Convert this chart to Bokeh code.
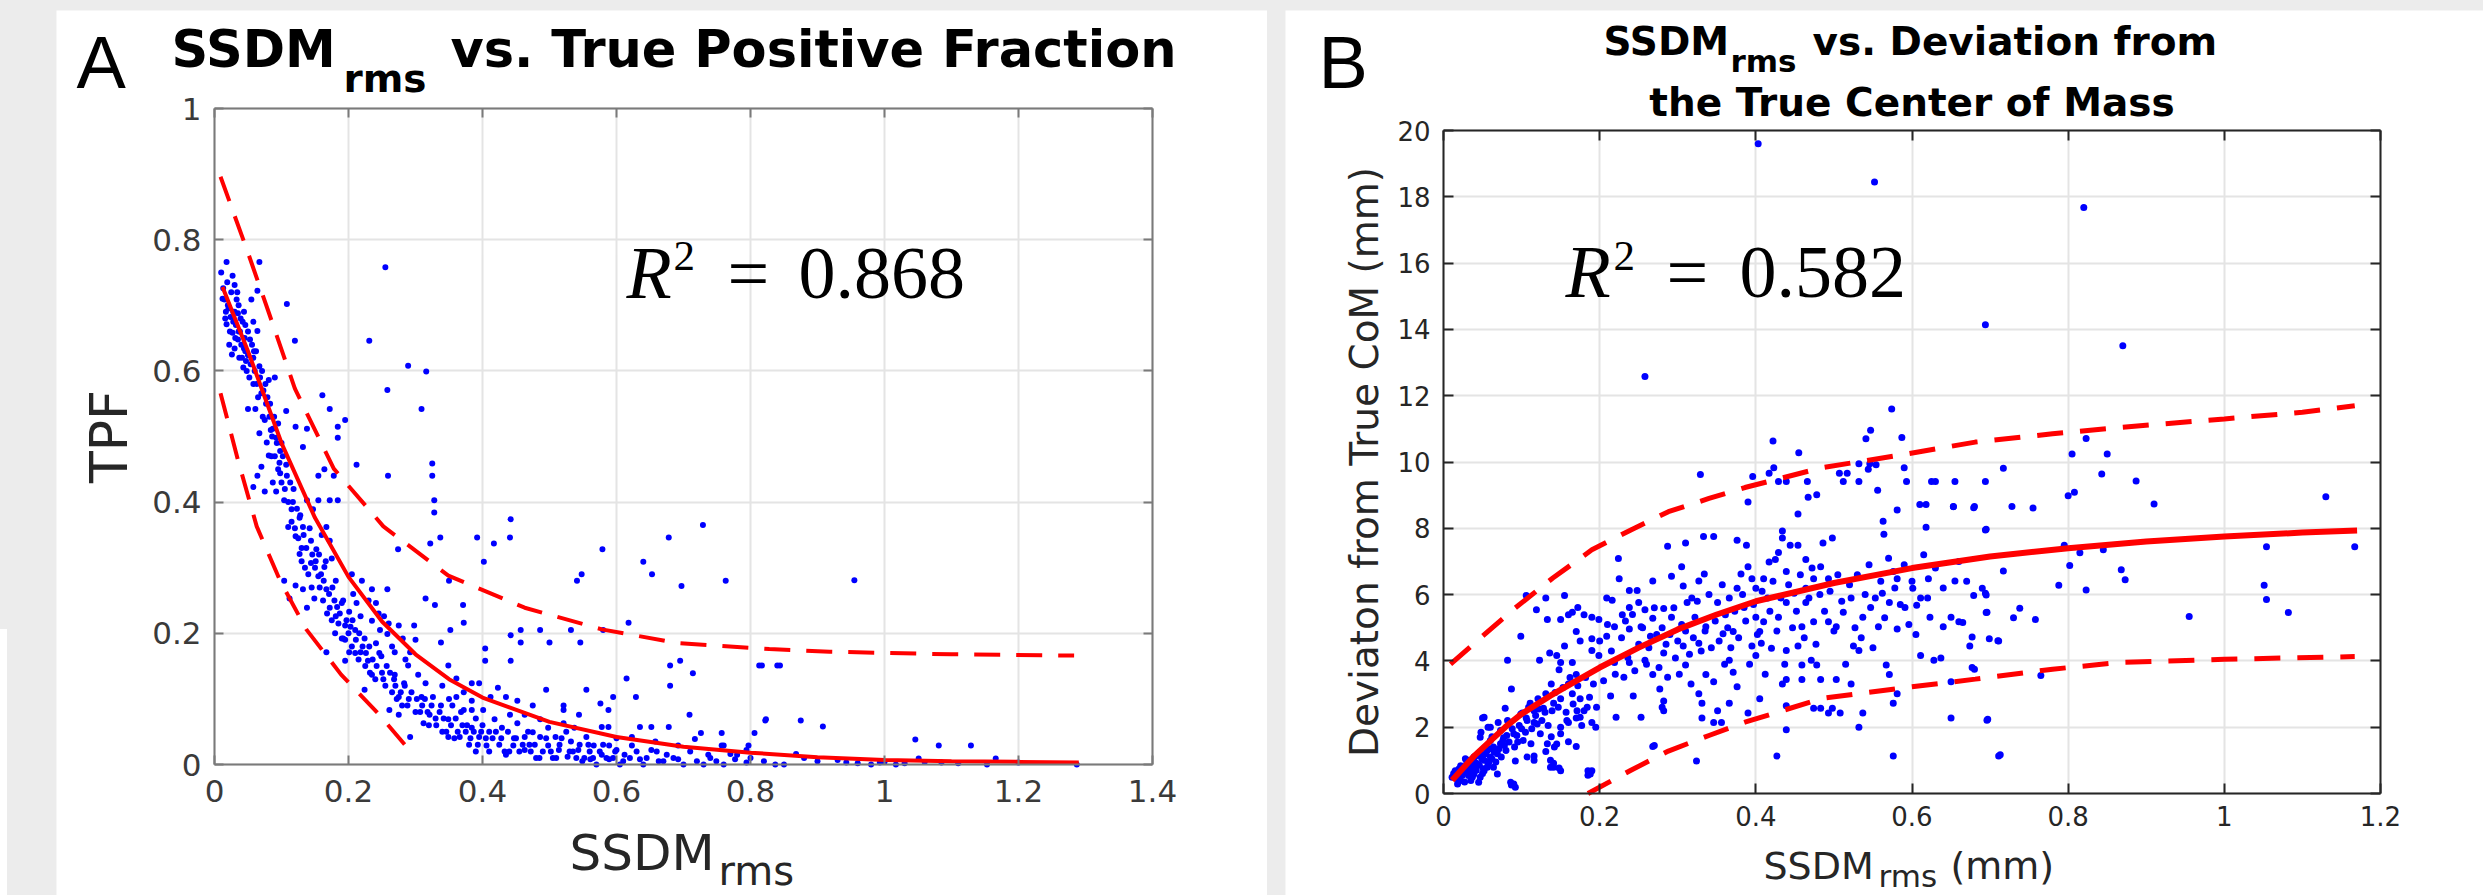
import math
from bokeh.plotting import figure
from bokeh.models import Range1d, FixedTicker, LinearAxis, Label, Spacer, Grid
from bokeh.layouts import row, column
from bokeh.embed import file_html
from bokeh.resources import INLINE

# ---------------- Panel A: SSDM_rms vs TPF ----------------
tpf_points = [
    (.255, .758), (.108, .702), (.12, .646), (.231, .646), (.289, .608), (.316, .599), (.258, .571), (.309, .542),
    (.325, .459), (.325, .44), (.259, .44), (.328, .403), (.328, .384), (.337, .346), (.322, .337), (.274, .328),
    (.442, .374), (.441, .346), (.417, .337), (.392, .346), (.402, .309),
    (.579, .328), (.548, .29), (.541, .28),
    (.640, .309), (.653, .29), (.678, .346), (.697, .272), (.729, .365), (.763, .28), (.955, .281),
    (.618, .216), (.58, .205), (.546, .186), (.532, .205), (.486, .205), (.5, .186), (.457, .205), (.457, .186),
    (.442, .197), (.442, .158), (.404, .177), (.404, .158), (.372, .216), (.371, .243), (.352, .205), (.35, .28),
    (.338, .186), (.315, .253), (.329, .243),
    (.68, .151), (.695, .158), (.714, .139), (.68, .12), (.709, .076), (.717, .039), (.726, .048), (.757, .048),
    (.806, .048), (.757, .029), (.652, .057), (.678, .057), (.615, .131), (.629, .103), (.595, .103), (.588, .083),
    (.555, .114), (.576, .093), (.578, .057), (.588, .057), (.544, .076), (.521, .083), (.495, .114),
    (.817, .151), (.823, .069), (.797, .029), (.84, .151),
    (.813, .151), (.844, .151), (.875, .067), (.908, .058), (.822, .067), (1.046, .038), (1.081, .029),
    (1.129, .029), (1.166, .009), (1.051, .009), (.794, .003), (.837, .0), (.943, .003), (.98, .0), (.993, .003),
    (1.017, .0), (1.085, .003), (1.153, .0), (1.287, .0), (.77, .016), (.868, .016), (.93, .007), (1.0, .004),
    (1.03, .002), (1.06, .004), (1.11, .002), (1.2, .003), (.9, .005), (.96, .002),
    (.01, .75), (.018, .766), (.013, .726), (.015, .709), (.021, .695), (.024, .682), (.03, .731), (.033, .709),
    (.035, .688), (.018, .671), (.027, .658), (.035, .648), (.044, .634), (.03, .634), (.041, .62), (.05, .624),
    (.058, .62), (.067, .607), (.055, .709), (.067, .766), (.064, .722), (.058, .675), (.053, .648), (.064, .661),
    (.02, .70), (.025, .72), (.028, .69), (.032, .67), (.038, .66), (.04, .64), (.045, .65), (.048, .60),
    (.052, .59), (.06, .60), (.022, .64), (.026, .625), (.016, .68), (.036, .70), (.042, .675), (.047, .615),
    (.058, .58), (.07, .566), (.081, .586), (.09, .59), (.05, .542), (.061, .542), (.075, .525), (.087, .512),
    (.067, .505), (.078, .491), (.092, .498), (.098, .478), (.081, .471), (.07, .454), (.064, .44), (.087, .43),
    (.098, .444), (.092, .416), (.075, .416), (.107, .457), (.058, .423), (.121, .515), (.138, .512), (.132, .484),
    (.107, .539), (.065, .56), (.072, .53), (.083, .55), (.095, .52), (.085, .47), (.1, .49),
    (.104, .403), (.115, .389), (.127, .376), (.138, .403), (.147, .389), (.11, .362), (.121, .348), (.132, .362),
    (.144, .341), (.127, .321), (.144, .307), (.152, .328), (.104, .28), (.112, .253), (.121, .273), (.132, .267),
    (.138, .239), (.149, .253), (.155, .287), (.164, .301), (.167, .267), (.175, .314), (.181, .28), (.172, .341),
    (.167, .362), (.164, .45), (.178, .44), (.184, .403), (.172, .403), (.155, .403), (.155, .44), (.184, .515),
    (.195, .525), (.184, .498), (.161, .563), (.172, .542), (.212, .457), (.118, .42), (.13, .33), (.16, .35),
    (.172, .239), (.181, .226), (.19, .246), (.195, .212), (.201, .233), (.207, .26), (.212, .246), (.218, .226),
    (.224, .192), (.21, .205), (.19, .192), (.201, .171), (.218, .171), (.229, .158), (.235, .267), (.241, .246),
    (.235, .219), (.247, .205), (.253, .226), (.258, .199), (.241, .185), (.249, .165), (.235, .137), (.224, .114),
    (.258, .267), (.167, .171), (.195, .158), (.192, .192), (.275, .212), (.281, .192), (.269, .171), (.292, .171),
    (.298, .212), (.289, .151), (.269, .137), (.283, .124), (.275, .103), (.304, .137), (.309, .103), (.315, .124),
    (.326, .103), (.321, .076), (.338, .09), (.349, .069), (.312, .063), (.292, .042), (.275, .076), (.261, .083),
    (.205, .29), (.22, .28), (.23, .25), (.245, .23), (.26, .215), (.265, .18), (.285, .16), (.3, .19),
    (.349, .151), (.361, .131), (.372, .11), (.384, .097), (.395, .124), (.401, .083), (.412, .103), (.418, .069),
    (.372, .083), (.384, .056), (.395, .042), (.406, .029), (.349, .042), (.366, .042), (.429, .056), (.441, .076),
    (.452, .063), (.463, .042), (.446, .029), (.435, .015), (.384, .083), (.361, .103), (.423, .117), (.435, .103),
    (.452, .097), (.463, .076), (.384, .124), (.34, .12), (.355, .09), (.37, .06), (.39, .07), (.41, .05),
    (.475, .09), (.486, .069), (.498, .056), (.509, .042), (.521, .063), (.532, .035), (.543, .022), (.555, .042),
    (.566, .029), (.578, .015), (.589, .029), (.486, .042), (.498, .029), (.514, .022), (.527, .012), (.549, .005),
    (.561, .008), (.589, .008), (.463, .022), (.475, .049), (.537, .056), (.521, .09), (.54, .01), (.57, .0),
    (.6, .022), (.612, .015), (.623, .029), (.635, .008), (.652, .022), (.663, .005), (.675, .015), (.692, .008),
    (.72, .005), (.737, .015), (.749, .005), (.623, .042), (.658, .035), (.692, .029), (.76, .029), (.777, .008),
    (.794, .022), (.635, .057), (.605, .0), (.64, .0), (.7, .0), (.73, .0), (.6, .04), (.62, .01),
    (.012, .71), (.017, .69), (.023, .66), (.028, .675), (.031, .65), (.037, .62), (.043, .605), (.046, .63),
    (.05, .66), (.056, .64), (.062, .63), (.068, .59), (.073, .57), (.077, .55), (.082, .53), (.086, .5),
    (.09, .47), (.095, .45), (.1, .43), (.105, .42), (.11, .4), (.115, .37), (.12, .36), (.125, .345),
    (.13, .31), (.135, .3), (.14, .29), (.145, .27), (.15, .3), (.157, .27), (.162, .25), (.168, .23),
    (.175, .22), (.18, .2), (.185, .215), (.195, .19), (.2, .2), (.205, .18), (.21, .17), (.215, .16),
    (.225, .15), (.232, .14), (.24, .13), (.25, .14), (.255, .12), (.265, .11), (.27, .12), (.28, .09),
    (.29, .1), (.3, .08), (.31, .09), (.32, .06), (.33, .07), (.34, .05), (.35, .1), (.36, .07),
    (.375, .05), (.38, .03), (.39, .02), (.4, .06), (.415, .04), (.425, .03), (.44, .02), (.45, .04),
    (.47, .03), (.48, .01), (.49, .02), (.505, .01), (.515, .03), (.525, .05), (.535, .02), (.56, .02),
    (.565, .01), (.58, .03), (.595, .01), (.61, .005), (.63, .02), (.645, .01), (.66, .02), (.67, .005),
    (.685, .01), (.71, .02), (.74, .01), (.76, .0), (.78, .015), (.8, .01), (.82, .005), (.85, .0), (.88, .01),
    (.03, .69), (.034, .72), (.039, .68), (.044, .69), (.019, .735), (.027, .745), (.036, .66), (.046, .67),
    (.054, .61), (.059, .63), (.063, .58), (.071, .6), (.076, .58), (.079, .56), (.084, .51), (.089, .53),
    (.093, .49), (.097, .46), (.102, .47), (.108, .44), (.113, .43), (.117, .4), (.123, .39), (.128, .38),
    (.133, .35), (.137, .33), (.142, .36), (.146, .32), (.151, .31), (.156, .32), (.159, .29), (.163, .28),
    (.166, .31), (.171, .26), (.176, .27), (.179, .25), (.183, .24), (.187, .23), (.192, .25), (.197, .22),
    (.203, .21), (.206, .22), (.211, .19), (.216, .2), (.221, .18), (.226, .17), (.231, .18), (.236, .16),
    (.242, .15), (.246, .17), (.252, .13), (.257, .15), (.262, .14), (.268, .13), (.272, .1), (.278, .11),
    (.284, .12), (.288, .09), (.294, .11), (.302, .1), (.307, .08), (.314, .1), (.318, .08), (.324, .09),
    (.331, .06), (.336, .08), (.342, .07), (.346, .05), (.353, .06), (.358, .04), (.363, .05), (.368, .08),
    (.377, .06), (.382, .04), (.387, .05), (.393, .03), (.398, .05), (.405, .04), (.41, .02), (.42, .05),
    (.428, .04), (.433, .02), (.438, .05), (.447, .04), (.455, .02), (.46, .03), (.468, .05), (.472, .02),
    (.478, .03), (.485, .01), (.495, .04), (.502, .02), (.51, .01), (.518, .04), (.53, .02), (.545, .03),
    (.552, .01), (.558, .03), (.575, .02), (.585, .01), (.598, .02),
]
tpf_fit_x = [0.012, 0.05, 0.1, 0.15, 0.2, 0.25, 0.3, 0.35, 0.4, 0.5, 0.6, 0.7, 0.8, 0.9, 1.0, 1.1, 1.2, 1.29]
tpf_fit_y = [0.728, 0.63, 0.49, 0.376, 0.286, 0.218, 0.168, 0.13, 0.102, 0.065, 0.042, 0.027, 0.018, 0.011, 0.007, 0.005, 0.004, 0.003]
tpf_hi_x = [0.009, 0.05, 0.081, 0.12, 0.178, 0.252, 0.349, 0.463, 0.578, 0.692, 0.828, 0.918, 1.1, 1.283]
tpf_hi_y = [0.896, 0.78, 0.689, 0.573, 0.451, 0.363, 0.288, 0.239, 0.206, 0.185, 0.176, 0.172, 0.168, 0.166]
tpf_lo_x = [0.009, 0.035, 0.063, 0.098, 0.137, 0.189, 0.246, 0.295]
tpf_lo_y = [0.566, 0.464, 0.363, 0.28, 0.206, 0.137, 0.076, 0.017]
a_xticks = [0, 0.2, 0.4, 0.6, 0.8, 1, 1.2, 1.4]
a_xlabels = ["0", "0.2", "0.4", "0.6", "0.8", "1", "1.2", "1.4"]
a_yticks = [0, 0.2, 0.4, 0.6, 0.8, 1]
a_ylabels = ["0", "0.2", "0.4", "0.6", "0.8", "1"]

# ---------------- Panel B: SSDM_rms vs deviation ----------------
dev_points = [
    (.403, 19.6), (.552, 18.45), (.258, 12.58), (.694, 14.14), (.82, 17.68), (.87, 13.51),
    (.574, 11.6), (.547, 10.96), (.541, 10.7), (.422, 10.63), (.455, 10.28), (.587, 10.74),
    (.329, 9.62), (.423, 9.83), (.396, 9.56), (.417, 9.66), (.439, 9.41), (.429, 9.41), (.466, 9.41),
    (.507, 9.66), (.517, 9.66), (.512, 9.41), (.532, 9.95), (.546, 9.95), (.554, 9.92), (.544, 9.78),
    (.556, 9.15), (.532, 9.41), (.59, 9.83), (.593, 9.41), (.625, 9.41), (.63, 9.41), (.655, 9.41),
    (.694, 9.41), (.39, 8.79), (.467, 8.94), (.478, 9.01), (.454, 8.43), (.581, 8.55), (.61, 8.72),
    (.618, 8.72), (.653, 8.65), (.679, 8.62), (.563, 8.21), (.564, 7.82), (.618, 8.03), (.694, 7.95),
    (.287, 7.46), (.31, 7.56), (.333, 7.75), (.346, 7.75), (.224, 7.09), (.225, 6.48), (.268, 6.41),
    (.292, 6.55), (.305, 6.84), (.334, 6.62), (.307, 6.26), (.327, 6.41), (.238, 6.12), (.248, 6.12),
    (.209, 5.9), (.216, 5.83), (.199, 5.25), (.229, 5.39), (.238, 5.61), (.25, 5.76), (.258, 5.54),
    (.268, 5.29), (.282, 5.58), (.292, 5.32), (.312, 5.76), (.322, 5.32), (.336, 5.03), (.351, 5.76),
    (.361, 5.39), (.327, 4.53), (.307, 4.45), (.297, 4.09), (.282, 4.24), (.265, 4.74), (.253, 5.03),
    (.238, 4.96), (.219, 5.03), (.209, 4.74), (.199, 4.16), (.19, 4.31), (.175, 4.6), (.17, 4.89),
    (.165, 5.47), (.172, 5.61), (.18, 5.39), (.19, 5.32), (.19, 4.67), (.219, 3.95), (.231, 3.51),
    (.243, 2.94), (.214, 2.94), (.238, 3.95), (.258, 4.02), (.268, 3.59), (.277, 3.15), (.282, 2.79),
    (.287, 3.51), (.31, 3.88), (.317, 3.3), (.327, 3.01), (.331, 2.72), (.336, 3.59), (.346, 3.37),
    (.351, 2.5), (.331, 2.28), (.346, 2.14), (.324, 0.98), (.268, 1.42), (.19, 2.14), (.19, 0.69),
    (.185, .55), (.358, 4.82), (.371, 4.89), (.366, 5.9), (.376, 6.19), (.381, 6.62), (.39, 6.84),
    (.395, 6.48), (.4, 6.19), (.41, 6.48), (.415, 5.9), (.385, 5.61), (.4, 5.32), (.41, 5.18),
    (.429, 5.32), (.439, 5.76), (.449, 6.04), (.464, 6.19), (.474, 6.48), (.483, 6.84), (.493, 6.48),
    (.439, 6.7), (.425, 7.06), (.429, 7.27), (.417, 6.98), (.454, 7.49), (.464, 7.06), (.498, 7.71),
    (.486, 7.56), (.376, 7.64), (.388, 7.49), (.434, 7.92), (.434, 7.71), (.444, 7.49), (.405, 4.89),
    (.395, 4.45), (.4, 4.16), (.407, 4.53), (.42, 4.38), (.439, 4.31), (.454, 4.45), (.459, 3.88),
    (.471, 4.02), (.478, 3.88), (.483, 3.44), (.503, 3.44), (.522, 3.3), (.525, 4.45), (.532, 4.31),
    (.537, 5.32), (.557, 5.03), (.571, 5.76), (.581, 6.48), (.576, 6.7), (.562, 6.04), (.547, 5.61),
    (.522, 5.9), (.512, 5.47), (.503, 5.03), (.493, 5.18), (.474, 5.18), (.464, 5.76), (.459, 5.03),
    (.366, 4.02), (.371, 3.66), (.376, 3.22), (.366, 2.72), (.356, 2.14), (.39, 2.43), (.405, 2.86),
    (.434, 3.3), (.439, 3.44), (.439, 2.65), (.439, 1.92), (.427, 1.13), (.459, 3.44), (.474, 2.57),
    (.483, 2.57), (.493, 2.43), (.508, 2.43), (.498, 2.57), (.537, 2.43), (.532, 2.0),
    (.576, 2.72), (.581, 3.01), (.576, 1.13), (.581, 4.96), (.571, 3.59), (.567, 3.88), (.591, 5.61),
    (.601, 6.19), (.611, 5.9), (.621, 6.48), (.623, 5.32), (.611, 4.16), (.628, 4.02), (.637, 4.09),
    (.64, 5.03), (.65, 5.32), (.655, 6.41), (.66, 5.18), (.65, 3.37), (.65, 2.28), (.674, 4.45),
    (.677, 3.8), (.679, 5.97), (.694, 6.04), (.696, 5.47), (.69, 6.19), (.699, 4.67), (.696, 2.21),
    (.711, 4.6), (.711, 1.13), (.606, 5.68), (.596, 5.1),
    (.106, 5.97), (.131, 5.9), (.119, 5.54), (.133, 5.25), (.155, 5.97), (.16, 5.39), (.15, 5.25),
    (.136, 4.24), (.123, 4.02), (.145, 4.16), (.155, 4.45), (.15, 3.95), (.165, 3.95), (.17, 3.59),
    (.16, 3.3), (.148, 3.73), (.138, 3.3), (.131, 3.01), (.121, 2.86), (.111, 2.72), (.106, 2.28),
    (.116, 2.14), (.128, 2.57), (.141, 2.72), (.15, 2.86), (.165, 3.01), (.175, 2.86), (.18, 2.5),
    (.17, 2.28), (.16, 2.14), (.15, 2.0), (.138, 1.71), (.145, 1.49), (.131, 1.27), (.141, 0.91),
    (.148, 0.77), (.16, 1.56), (.17, 1.42), (.116, 1.13), (.092, 0.98), (.087, .26), (.092, .19),
    (.101, 2.43), (.079, 2.57), (.07, 2.14), (.062, 1.71), (.057, 2.0), (.048, 1.85), (.05, 2.28),
    (.082, 4.02), (.099, 4.74), (.087, 3.15),
    (.011, .49), (.018, .29), (.015, .69), (.022, .84), (.026, .64), (.03, .94), (.035, .74), (.028, 1.05),
    (.039, 1.1), (.043, .9), (.047, 1.2), (.052, 1.0), (.056, 1.3), (.06, 1.1), (.035, .39), (.047, .49),
    (.052, .69), (.064, 1.4), (.069, 1.2), (.073, 1.5), (.022, .39), (.032, .54), (.039, .59), (.045, .34),
    (.056, .79), (.064, .79), (.069, .59), (.025, .8), (.033, 1.0), (.041, .8), (.05, .6), (.058, .95),
    (.052, 2.3), (.06, 2.0), (.047, 1.7), (.06, 1.6), (.073, 1.9), (.082, 2.2), (.077, 1.68), (.09, 1.8),
    (.099, 2.4), (.107, 2.2), (.116, 2.5), (.124, 1.8), (.133, 1.5), (.142, 1.4), (.15, 1.8), (.158, 2.2),
    (.171, 2.5), (.175, 2.3), (.184, 2.6), (.195, 2.0), (.188, .59), (.185, .69), (.09, .29), (.086, .34),
    (.112, 1.5), (.107, 1.1), (.116, 1.0), (.137, 1.0), (.141, .79), (.15, .69), (.137, .79), (.221, 2.3),
    (.253, 2.3), (.27, 1.45), (.282, 2.5), (.28, 2.6), (.08, 1.3), (.095, 1.55), (.1, 1.95), (.12, 2.1),
    (.823, 10.71), (.805, 10.24), (.85, 10.24), (.843, 9.64), (.887, 9.43), (.91, 8.73), (.8, 8.98),
    (.808, 9.09), (.795, 7.49), (.802, 6.88), (.788, 6.28), (.815, 7.26), (.845, 7.35), (.823, 6.14),
    (.868, 6.75), (.873, 6.45), (.695, 7.97), (.717, 6.71), (.73, 5.3), (.738, 5.59), (.758, 5.25),
    (.765, 3.56), (.717, 9.81), (.728, 8.66), (.755, 8.61), (.68, 8.66), (.653, 8.66), (.695, 5.99),
    (.695, 5.46), (.71, 4.61), (.677, 4.72), (.68, 3.75), (.697, 2.24), (.713, 1.17), (.665, 5.16),
    (1.054, 5.85), (1.051, 6.28), (1.054, 7.44), (1.082, 5.46), (.955, 5.34), (1.13, 8.95), (1.167, 7.44),
    (.2, 4.6), (.205, 3.4), (.21, 5.1), (.215, 4.3), (.22, 3.6), (.228, 4.7), (.233, 5.2), (.236, 4.1),
    (.242, 5.4), (.245, 3.7), (.25, 4.5), (.255, 5.0), (.26, 3.9), (.263, 4.4), (.27, 5.6), (.273, 4.8),
    (.276, 3.8), (.28, 5.0), (.285, 4.5), (.29, 4.8), (.295, 5.6), (.3, 4.6), (.302, 3.6), (.305, 5.1),
    (.31, 4.9), (.315, 4.2), (.318, 5.9), (.32, 4.7), (.325, 5.8), (.33, 4.3), (.335, 4.9), (.34, 6.0),
    (.343, 4.4), (.348, 5.2), (.353, 4.6), (.357, 6.3), (.36, 3.9), (.364, 5.0), (.368, 4.4), (.373, 5.5),
    (.378, 4.7), (.383, 6.0), (.387, 5.2), (.392, 3.9), (.397, 5.7), (.402, 4.8), (.408, 6.1), (.412, 3.6),
    (.418, 5.5), (.422, 6.4), (.427, 4.9), (.432, 5.9), (.437, 3.9), (.442, 6.3), (.447, 5.0), (.452, 5.5),
    (.457, 6.6), (.462, 4.7), (.468, 5.9), (.472, 6.8), (.477, 4.5), (.482, 6.0), (.488, 5.5), (.495, 6.1),
    (.5, 4.9), (.505, 6.6), (.51, 5.8), (.515, 3.9), (.52, 6.3), (.527, 5.0), (.53, 6.6), (.535, 4.7),
    (.54, 6.0), (.545, 6.9), (.55, 4.4), (.553, 5.9), (.56, 6.4), (.565, 5.3), (.57, 7.1), (.578, 6.2),
    (.585, 5.7), (.59, 6.9), (.6, 6.4), (.605, 4.8), (.615, 7.2), (.62, 5.9), (.63, 6.8), (.64, 6.2),
    (.66, 7.0), (.67, 6.4),
    (.013, .6), (.017, .45), (.02, .75), (.024, .55), (.027, .35), (.029, .8), (.031, .65), (.034, .9),
    (.037, .5), (.04, .95), (.042, .7), (.044, 1.15), (.046, .85), (.049, 1.05), (.051, .75), (.054, 1.2),
    (.057, .9), (.059, 1.35), (.062, 1.05), (.065, 1.25), (.067, .95), (.071, 1.35), (.074, 1.1), (.076, 1.6),
    (.078, 1.45), (.081, 1.75), (.084, 1.55), (.088, 1.95), (.091, 1.4), (.094, 1.75), (.097, 2.05), (.102, 1.6),
    (.105, 1.85), (.109, 2.6), (.113, 1.95), (.118, 2.35), (.122, 2.55), (.126, 2.2), (.13, 2.45), (.134, 2.05),
    (.139, 2.5), (.143, 3.05), (.147, 2.6), (.153, 3.2), (.157, 2.45), (.162, 3.5), (.166, 2.7), (.172, 3.25),
    (.177, 2.05), (.182, 3.5), (.187, 2.9), (.192, 3.3), (.196, 2.6),
]
dev_fit_x = [0.011, 0.04, 0.079, 0.1, 0.137, 0.17, 0.2, 0.25, 0.3, 0.35, 0.4, 0.5, 0.6, 0.7, 0.8, 0.9, 1.0, 1.1, 1.17]
dev_fit_y = [0.4, 1.15, 2.0, 2.4, 2.95, 3.4, 3.8, 4.4, 4.95, 5.4, 5.8, 6.35, 6.8, 7.15, 7.4, 7.6, 7.75, 7.87, 7.93]
dev_hi_x = [0.009, 0.05, 0.092, 0.14, 0.19, 0.24, 0.288, 0.34, 0.386, 0.485, 0.583, 0.681, 0.78, 0.865, 1.0, 1.1, 1.167]
dev_hi_y = [3.9, 4.75, 5.6, 6.5, 7.35, 7.95, 8.5, 8.9, 9.23, 9.83, 10.2, 10.6, 10.85, 11.04, 11.3, 11.5, 11.7]
dev_lo_x = [0.185, 0.24, 0.288, 0.34, 0.386, 0.485, 0.583, 0.681, 0.78, 0.865, 1.0, 1.167]
dev_lo_y = [0.0, 0.7, 1.28, 1.75, 2.15, 2.87, 3.17, 3.45, 3.75, 3.95, 4.05, 4.13]
b_xticks = [0, 0.2, 0.4, 0.6, 0.8, 1, 1.2]
b_xlabels = ["0", "0.2", "0.4", "0.6", "0.8", "1", "1.2"]
b_yticks = [0, 2, 4, 6, 8, 10, 12, 14, 16, 18, 20]
b_ylabels = ["0", "2", "4", "6", "8", "10", "12", "14", "16", "18", "20"]

RED = "#ff0000"
BLUE = "#0000ff"
BG = "#ececec"
GRID = "#e4e4e4"
HAS_CROSS = "cross_bounds" in Grid.properties()
# half of (ascent - descent) in em, to place a label by its alphabetic baseline using a middle anchor
MID = {"DejaVu Sans": 0.346, "Liberation Sans": 0.347, "Liberation Serif": 0.338}


def style_axis(ax, ticks, labels, color, lab_color, fsize, tlen, standoff, show):
    ax.ticker = FixedTicker(ticks=ticks)
    ax.major_label_overrides = {t: (s if show else "") for t, s in zip(ticks, labels)}
    ax.axis_line_color = color
    ax.axis_line_width = 2
    ax.major_tick_line_color = color
    ax.major_tick_line_width = 2
    ax.major_tick_in = tlen
    ax.major_tick_out = 0
    ax.minor_tick_line_color = None
    ax.major_label_text_font = "DejaVu Sans"
    ax.major_label_text_font_size = f"{fsize}px"
    ax.major_label_text_color = lab_color
    ax.major_label_standoff = standoff


def make_panel(canvas, box, xlim, ylim, xt, xl, yt, yl, color, lab_color, fsize, tlen, sx, sy):
    cl, ct, cr, cb = canvas
    bl, bt, br, bb = box
    kx = (br - bl) / (xlim[1] - xlim[0])
    ky = (bb - bt) / (ylim[1] - ylim[0])
    xr = Range1d(xlim[0] - (bl - cl) / kx, xlim[1] + (cr - br) / kx)
    yr = Range1d(ylim[0] - (cb - bb) / ky, ylim[1] + (bt - ct) / ky)
    p = figure(width=cr - cl, height=cb - ct, x_range=xr, y_range=yr,
               output_backend="svg", toolbar_location=None,
               x_axis_type=None, y_axis_type=None,
               min_border=0, min_border_left=0, min_border_right=0, min_border_top=0, min_border_bottom=0,
               background_fill_color="white", border_fill_color="white")
    p.title.visible = False
    p.outline_line_color = None
    for dim, ticks, bnd, cross in ((0, xt, xlim, ylim), (1, yt, ylim, xlim)):
        if HAS_CROSS:
            g = Grid(dimension=dim, ticker=FixedTicker(ticks=ticks), bounds=bnd, cross_bounds=cross,
                     grid_line_color=GRID, grid_line_width=2)
            p.add_layout(g)
        else:
            if dim == 0:
                p.segment(x0=ticks, y0=[cross[0]] * len(ticks), x1=ticks, y1=[cross[1]] * len(ticks),
                          line_color=GRID, line_width=2, level="underlay")
            else:
                p.segment(x0=[cross[0]] * len(ticks), y0=ticks, x1=[cross[1]] * len(ticks), y1=ticks,
                          line_color=GRID, line_width=2, level="underlay")
    bottom = LinearAxis(fixed_location=ylim[0], bounds=xlim)
    left = LinearAxis(fixed_location=xlim[0], bounds=ylim)
    top = LinearAxis(fixed_location=ylim[1], bounds=xlim)
    right = LinearAxis(fixed_location=xlim[1], bounds=ylim)
    style_axis(bottom, xt, xl, color, lab_color, fsize, tlen, sx, True)
    style_axis(left, yt, yl, color, lab_color, fsize, tlen, sy, True)
    style_axis(top, xt, xl, color, lab_color, fsize, tlen, 0, False)
    style_axis(right, yt, yl, color, lab_color, fsize, tlen, 0, False)
    p.add_layout(bottom, "below")
    p.add_layout(left, "left")
    p.add_layout(top, "above")
    p.add_layout(right, "right")
    return p


def txt(p, canvas, X, Y, s, size, font="DejaVu Sans", style="normal", align="left",
        angle=0.0, color="#000000", on_baseline=True):
    """(X, Y): page pixel of the text's left/centre point on its alphabetic baseline
    (or of its centre when on_baseline is False)."""
    cl, ct, cr, cb = canvas
    yc = Y - MID[font] * size if on_baseline else Y
    p.add_layout(Label(x=X - cl, y=cb - yc, x_units="screen", y_units="screen", text=s,
                       text_font=font, text_font_size=f"{size}px", text_font_style=style,
                       text_align=align, text_baseline="middle", angle=angle, text_color=color))


# ---------- Figure A  (page x 56..1267, y 10..895; axes box 214..1152 x 108..764)
CA = (56, 10, 1267, 895)
pa = make_panel(CA, (214, 108, 1152, 764), (0, 1.4), (0, 1), a_xticks, a_xlabels, a_yticks, a_ylabels,
                "#7a7a7a", "#3a3a3a", 31, 9, 15, 13)
pa.scatter([q[0] for q in tpf_points], [q[1] for q in tpf_points], size=6, color=BLUE, line_color=None)
pa.line(tpf_fit_x, tpf_fit_y, line_color=RED, line_width=4)
pa.line(tpf_hi_x, tpf_hi_y, line_color=RED, line_width=4, line_dash="26 16")
pa.line(tpf_lo_x, tpf_lo_y, line_color=RED, line_width=4, line_dash="26 16")

txt(pa, CA, 76, 88, "A", 74, font="Liberation Sans")
txt(pa, CA, 171, 67, "SSDM", 51, style="bold")
txt(pa, CA, 343, 91, "rms", 39, style="bold")
txt(pa, CA, 450, 67, "vs. True Positive Fraction", 51, style="bold")
txt(pa, CA, 108, 436, "TPF", 52, align="center", angle=math.pi / 2, color="#262626", on_baseline=False)
txt(pa, CA, 569, 870, "SSDM", 50, color="#262626")
txt(pa, CA, 718, 884, "rms", 40, color="#262626")
txt(pa, CA, 626, 298, "R", 74, font="Liberation Serif", style="italic")
txt(pa, CA, 673, 270, "2", 43, font="Liberation Serif")
txt(pa, CA, 727, 298, "=", 74, font="Liberation Serif")
txt(pa, CA, 798, 298, "0.868", 74, font="Liberation Serif")

# ---------- Figure B  (page x 1285..2483, y 10..895; axes box 1443..2380 x 130..793)
CB = (1285, 10, 2483, 895)
pb = make_panel(CB, (1443, 130, 2380, 793), (0, 1.2), (0, 20), b_xticks, b_xlabels, b_yticks, b_ylabels,
                "#262626", "#262626", 26, 10, 12, 13)
pb.scatter([q[0] for q in dev_points], [q[1] for q in dev_points], size=7, color=BLUE, line_color=None)
pb.line(dev_fit_x, dev_fit_y, line_color=RED, line_width=6)
pb.line(dev_hi_x, dev_hi_y, line_color=RED, line_width=5, line_dash="26 17")
pb.line(dev_lo_x, dev_lo_y, line_color=RED, line_width=5, line_dash="26 17")

txt(pb, CB, 1318, 88, "B", 74, font="Liberation Sans")
txt(pb, CB, 1603, 54, "SSDM", 39, style="bold")
txt(pb, CB, 1730, 71, "rms", 31, style="bold")
txt(pb, CB, 1812, 54, "vs. Deviation from", 39, style="bold")
txt(pb, CB, 1911.5, 115, "the True Center of Mass", 39, style="bold", align="center")
txt(pb, CB, 1364, 461.5, "Deviaton from True CoM (mm)", 39, align="center", angle=math.pi / 2,
    color="#262626", on_baseline=False)
txt(pb, CB, 1763, 879, "SSDM", 38, color="#262626")
txt(pb, CB, 1878, 886, "rms", 31, color="#262626")
txt(pb, CB, 1950, 879, "(mm)", 38, color="#262626")
txt(pb, CB, 1565, 297, "R", 74, font="Liberation Serif", style="italic")
txt(pb, CB, 1613, 270, "2", 43, font="Liberation Serif")
txt(pb, CB, 1666, 297, "=", 74, font="Liberation Serif")
txt(pb, CB, 1739, 297, "0.582", 74, font="Liberation Serif")

# page background (Bokeh's page has no body margin); white strip at the far left bottom
left_strip = column(
    Spacer(width=56, height=619),
    row(Spacer(width=7, height=266, styles={"background-color": "white"}), Spacer(width=49, height=266)),
)
layout = column(
    Spacer(width=2483, height=10),
    row(left_strip, pa, Spacer(width=18, height=885), pb),
    styles={"background-color": BG},
)

open("out.html", "w").write(file_html(layout, INLINE))
